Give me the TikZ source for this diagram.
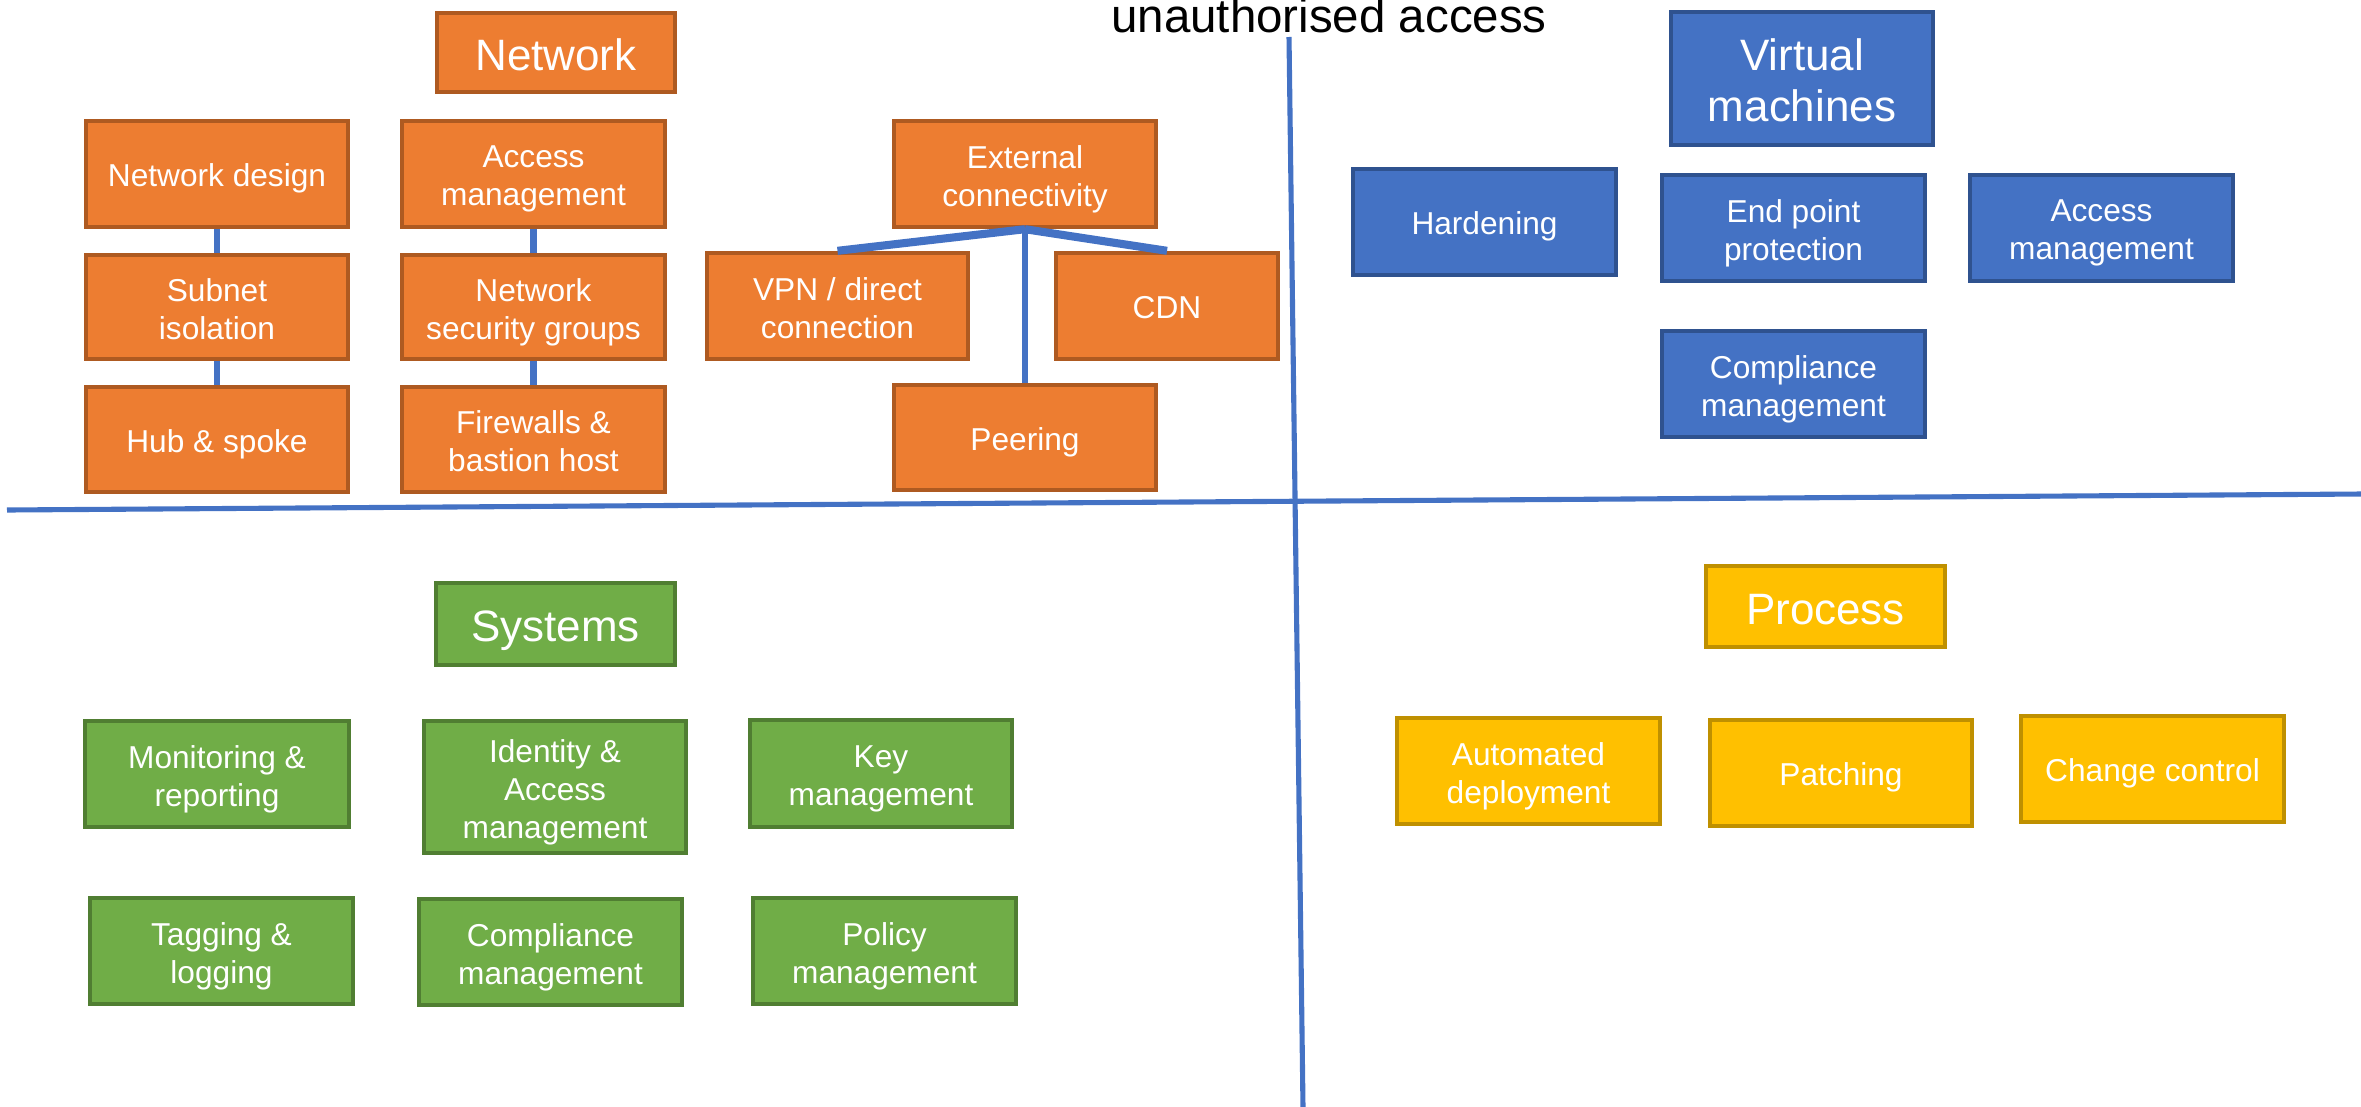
\documentclass[tikz,border=0pt]{standalone}
\usepackage{fontspec}
\setmainfont{Liberation Sans}
\definecolor{netfill}{HTML}{ED7D31}
\definecolor{netline}{HTML}{AE5A21}
\definecolor{vmfill}{HTML}{4472C4}
\definecolor{vmline}{HTML}{2F528F}
\definecolor{sysfill}{HTML}{70AD47}
\definecolor{sysline}{HTML}{507E32}
\definecolor{procfill}{HTML}{FFC000}
\definecolor{procline}{HTML}{BF9000}
\definecolor{divider}{HTML}{4472C4}

% box from corner (x1,y1) to (x2,y2) in pixel units, with its label on top
\newcommand\bx[8]{%
  \pgfmathsetmacro\bw{(#4-#2)*0.01-0.035}%
  \pgfmathsetmacro\bh{(#5-#3)*0.01-0.035}%
  \pgfmathsetmacro\bcx{(#2+#4)/2}%
  \pgfmathsetmacro\bcy{(#3+#5)/2}%
  \node[#6, minimum width=\bw cm, minimum height=\bh cm] (#1) at (\bcx,\bcy) {};
  \node[lbl, #7] (#1-label) at (#1.center) {#8};}

\tikzset{
  box/.style={rectangle, line width=1.1pt, inner sep=0pt},
  net/.style={box, fill=netfill, draw=netline},
  vm/.style={box, fill=vmfill, draw=vmline},
  sys/.style={box, fill=sysfill, draw=sysline},
  proc/.style={box, fill=procfill, draw=procline},
  % fixed line box so every label sits on the same baseline offset
  lbl/.style={text=white, align=center, inner sep=0pt,
    font=\fontsize{9pt}{10.8pt}\selectfont,
    execute at begin node={\rule{0pt}{1.0em}},
    execute at end node={\rule[-0.2em]{0pt}{0.2em}}},
  body/.style={},
  ml/.style={yshift=-1.4pt},
  title/.style={font=\fontsize{12.5pt}{14.5pt}\selectfont},
  mltitle/.style={title, yshift=-1.8pt},
  link/.style={draw=divider, line width=1.9pt},
  fork/.style={draw=divider, line width=2.3pt},
  split/.style={draw=divider, line width=1.45pt},
}

\begin{document}
\begin{tikzpicture}[x=0.01cm, y=-0.01cm]
\useasboundingbox (0,0) rectangle (2361,1106);

% quadrant dividers
\coordinate (vtop) at (1289,37);
\coordinate (vbot) at (1303,1108);
\coordinate (hleft) at (7,510);
\coordinate (hright) at (2363,494);
\path[split] (vtop) -- (vbot);
\path[split] (hleft) -- (hright);

\node[anchor=base, font=\fontsize{13.5pt}{16pt}\selectfont] (heading) at (1329,32) {unauthorised access};

% Network
\bx{net}{435}{11}{677}{94}{net}{title}{Network}
\bx{nd}{84}{119}{350}{229}{net}{body}{Network design}
\bx{am}{400}{119}{667}{229}{net}{ml}{Access\\management}
\bx{sub}{84}{253}{350}{361}{net}{ml}{Subnet\\isolation}
\bx{nsg}{400}{253}{667}{361}{net}{ml}{Network\\security groups}
\bx{hub}{84}{385}{350}{494}{net}{body}{Hub \& spoke}
\bx{fw}{400}{385}{667}{494}{net}{ml}{Firewalls \&\\bastion host}
\bx{ext}{892}{119}{1158}{229}{net}{ml}{External\\connectivity}
\bx{vpn}{705}{251}{970}{361}{net}{ml}{VPN / direct\\connection}
\bx{cdn}{1054}{251}{1280}{361}{net}{body}{CDN}
\bx{peer}{892}{383}{1158}{492}{net}{body}{Peering}

\path[link] (nd.south) -- (sub.north);
\path[link] (sub.south) -- (hub.north);
\path[link] (am.south) -- (nsg.north);
\path[link] (nsg.south) -- (fw.north);
\path[fork] (ext.south) -- (vpn.north);
\path[fork] (ext.south) -- (cdn.north);
\path[link] (ext.south) -- (peer.north);

% Virtual machines
\bx{vmt}{1669}{10}{1935}{147}{vm}{mltitle}{Virtual\\machines}
\bx{hard}{1351}{167}{1618}{277}{vm}{body}{Hardening}
\bx{epp}{1660}{173}{1927}{283}{vm}{ml}{End point\\protection}
\bx{vmam}{1968}{173}{2235}{283}{vm}{ml}{Access\\management}
\bx{vmcm}{1660}{329}{1927}{439}{vm}{ml}{Compliance\\management}

% Systems
\bx{sys}{434}{581}{677}{667}{sys}{title}{Systems}
\bx{mon}{83}{719}{351}{829}{sys}{ml}{Monitoring \&\\reporting}
\bx{iam}{422}{719}{688}{855}{sys}{ml}{Identity \&\\Access\\management}
\bx{key}{748}{718}{1014}{829}{sys}{ml}{Key\\management}
\bx{tag}{88}{896}{355}{1006}{sys}{ml}{Tagging \&\\logging}
\bx{scm}{417}{897}{684}{1007}{sys}{ml}{Compliance\\management}
\bx{pol}{751}{896}{1018}{1006}{sys}{ml}{Policy\\management}

% Process
\bx{proc}{1704}{564}{1947}{649}{proc}{title}{Process}
\bx{auto}{1395}{716}{1662}{826}{proc}{ml}{Automated\\deployment}
\bx{patch}{1708}{718}{1974}{828}{proc}{body}{Patching}
\bx{chg}{2019}{714}{2286}{824}{proc}{body}{Change control}
\end{tikzpicture}
\end{document}
